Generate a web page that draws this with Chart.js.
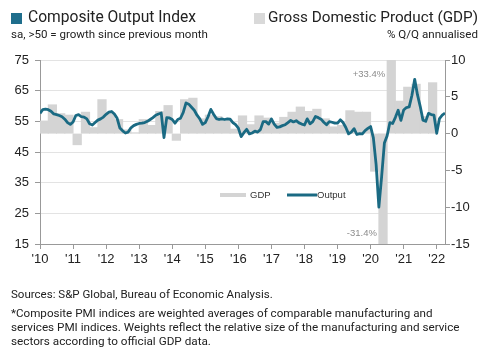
<!DOCTYPE html>
<html><head><meta charset="utf-8">
<script src="https://cdn.jsdelivr.net/npm/chart.js@4.4.1/dist/chart.umd.min.js"></script>
<style>
html,body{margin:0;padding:0;background:#fff;}
#wrap{position:relative;width:500px;height:356px;overflow:hidden;font-family:Roboto,"Noto Sans",sans-serif;color:#222;}
canvas{position:absolute;left:0;top:0;}
.t{position:absolute;white-space:nowrap;line-height:1;}
.sq{position:absolute;width:11px;height:11px;}
</style></head><body>
<div id="wrap">
<canvas id="c" width="500" height="356"></canvas>
<div class="sq" style="left:11px;top:13px;background:#1f6e8c"></div>
<div class="t fit" data-w="168" style="left:28px;top:10px;font-size:15px;">Composite Output Index</div>
<div class="t fit" data-w="197" style="left:11px;top:29px;font-size:10.5px;">sa, &gt;50 = growth since previous month</div>
<div class="sq" style="left:254px;top:13px;background:#d9d9d9"></div>
<div class="t fit" data-w="210" style="right:22px;top:10px;font-size:15px;">Gross Domestic Product (GDP)</div>
<div class="t fit" data-w="91" style="right:22px;top:29px;font-size:10.5px;">% Q/Q annualised</div>
<div class="t fit" data-w="262" style="left:11px;top:289px;font-size:10.5px;">Sources: S&amp;P Global, Bureau of Economic Analysis.</div>
<div class="t fit" data-w="422" style="left:11px;top:308px;font-size:10.5px;">*Composite PMI indices are weighted averages of comparable manufacturing and</div>
<div class="t fit" data-w="449" style="left:11px;top:322px;font-size:10.5px;">services PMI indices. Weights reflect the relative size of the manufacturing and service</div>
<div class="t fit" data-w="200" style="left:11px;top:336px;font-size:10.5px;">sectors according to official GDP data.</div>
</div>
<script>
// Monthly composite output index, Jan 2010 - Apr 2022
const pmi = [
  57.6, 58.8, 59.0, 58.8, 58.3, 57.4, 57.2, 56.9, 56.5, 55.7, 54.6, 54.0, // 2010
  54.8, 56.9, 57.2, 56.5, 56.4, 55.8, 54.2, 53.8, 54.6, 55.4, 55.8, 56.4, // 2011
  57.3, 58.0, 58.2, 57.4, 56.0, 52.8, 51.9, 51.2, 51.5, 52.9, 53.6, 54.0, // 2012
  54.3, 54.4, 54.6, 55.0, 55.6, 56.2, 57.0, 57.4, 57.7, 49.7, 56.2, 56.1, // 2013
  55.6, 54.4, 55.6, 56.0, 57.9, 61.0, 60.6, 59.6, 58.6, 57.0, 55.8, 54.0, // 2014
  54.6, 56.5, 58.9, 57.3, 55.9, 55.6, 55.8, 55.6, 55.8, 55.7, 54.6, 53.9, // 2015
  52.8, 50.0, 51.3, 52.4, 50.9, 51.2, 51.8, 51.5, 52.3, 54.9, 54.9, 54.1, // 2016
  55.8, 54.1, 53.0, 53.2, 53.6, 53.9, 54.6, 55.3, 54.8, 55.2, 54.5, 54.1, // 2017
  53.8, 55.8, 54.2, 54.9, 56.6, 56.2, 55.7, 54.7, 53.9, 54.9, 54.7, 54.4, // 2018
  54.4, 55.5, 54.6, 53.0, 50.9, 51.5, 52.6, 50.7, 51.0, 50.9, 52.0, 52.7, // 2019
  53.3, 49.6, 40.9, 27.0, 37.0, 47.9, 50.3, 54.6, 54.3, 56.3, 58.6, 55.3, // 2020
  58.7, 59.5, 59.7, 63.5, 68.7, 63.7, 59.9, 55.4, 55.0, 57.6, 57.2, 57.0, // 2021
  51.1, 55.9, 57.0, 57.7                                                  // 2022
];
// Quarterly GDP, % q/q annualised, 2010Q1 - 2021Q4
const gdp = [
  1.7, 3.9, 2.7, 2.5,   // 2010
  -1.5, 2.9, 0.8, 4.6,  // 2011
  2.7, 1.9, 0.5, 0.1,   // 2012
  1.9, 1.1, 3.0, 3.8,   // 2013
  -0.9, 4.6, 4.8, 2.0,  // 2014
  2.5, 2.3, 1.9, 0.6,   // 2015
  2.4, 1.2, 2.4, 2.1,   // 2016
  1.4, 2.2, 2.9, 3.6,   // 2017
  3.0, 3.3, 2.0, 0.9,   // 2018
  1.1, 3.1, 2.9, 2.9,   // 2019
  -5.1, -31.4, 33.4, 4.4, // 2020
  6.3, 6.7, 2.3, 6.9    // 2021
];
const startYear = 2010;
const years = [2010,2011,2012,2013,2014,2015,2016,2017,2018,2019,2020,2021,2022];
const yearLabels = ["'10","'11","'12","'13","'14","'15","'16","'17","'18","'19","'20","'21","'22"];
const leftTicks = [15,25,35,45,55,65,75];
const rightTicks = [-15,-10,-5,0,5,10];
const legendLabels = ['GDP','Output'];

const TEAL = '#1a6a83', GREY = '#d4d4d4';
const lineData = pmi.map((v,i)=>({x: startYear + i/12, y: v}));
const barData = gdp.map((v,j)=>({x: startYear + j/4 + 0.125, y: v}));

// fit header/footer text widths
document.querySelectorAll('.fit').forEach(el=>{
  const w = el.getBoundingClientRect().width;
  const target = +el.dataset.w;
  const fs = parseFloat(el.style.fontSize);
  el.style.fontSize = (fs*target/w).toFixed(2)+'px';
});

const overlay = {
  id:'overlay',
  afterDatasetsDraw(chart){
    const ctx = chart.ctx, a = chart.chartArea;
    const yR = chart.scales.yR;
    ctx.save();
    ctx.font = '9.5px "Liberation Sans", Arial, sans-serif';
    ctx.fillStyle = '#8c8c8c';
    ctx.textAlign = 'right';
    const meta = chart.getDatasetMeta(1);
    gdp.forEach((v,j)=>{
      if (v > yR.max || v < yR.min){
        const el = meta.data[j];
        const left = el.x - el.width/2 - 2;
        const txt = (v>0?'+':'') + v.toFixed(1) + '%';
        ctx.textBaseline = 'middle';
        ctx.fillText(txt, left, v>0 ? a.top+14 : a.bottom-11);
      }
    });
    const ly = a.top + 135;
    ctx.textAlign = 'left'; ctx.textBaseline = 'middle';
    ctx.font = '9.5px "Liberation Sans", Arial, sans-serif';
    ctx.fillStyle = GREY; ctx.fillRect(a.left+180, ly-2, 26, 4);
    ctx.fillStyle = '#333'; ctx.fillText(legendLabels[0], a.left+210, ly);
    ctx.strokeStyle = TEAL; ctx.lineWidth = 3;
    ctx.beginPath(); ctx.moveTo(a.left+247, ly); ctx.lineTo(a.left+277, ly); ctx.stroke();
    ctx.fillText(legendLabels[1], a.left+277, ly);
    ctx.restore();
  }
};

const tickFont = {family:'"Liberation Sans", Arial, sans-serif', size:13};
new Chart(document.getElementById('c'), {
  data: {
    datasets: [
      {type:'line', label:legendLabels[1], data: lineData, yAxisID:'yL', xAxisID:'x',
       borderColor: TEAL, borderWidth: 2.8, pointRadius: 0, tension: 0, order: 0,
       borderJoinStyle:'round'},
      {type:'bar', label:legendLabels[0], data: barData, yAxisID:'yR', xAxisID:'x',
       backgroundColor: GREY, borderWidth: 0, barPercentage: 1, categoryPercentage: 1,
       inflateAmount: 0.5, order: 1}
    ]
  },
  options: {
    responsive:false, animation:false, events:[],
    layout:{padding:{top:60,left:0,right:0,bottom:82}},
    plugins:{legend:{display:false}, tooltip:{enabled:false}},
    scales:{
      x:{type:'linear', position:'bottom', min:startYear, max:2022.25, offset:false,
        afterBuildTicks: s => { s.ticks = years.map(v=>({value:v})); },
        afterFit: s => { s.height = 30; },
        grid:{drawOnChartArea:false, offset:false, tickLength:5, tickColor:'#999'},
        border:{color:'#999'},
        ticks:{font:tickFont, color:'#222', padding:3, maxRotation:0, autoSkip:false,
          callback: v => yearLabels[years.indexOf(v)]}
      },
      yL:{type:'linear', position:'left', min:15, max:75,
        afterBuildTicks: s => { s.ticks = leftTicks.map(v=>({value:v})); },
        afterFit: s => { s.width = 40; },
        grid:{color:'#e3e3e3', tickLength:5, tickColor:'#999'},
        border:{color:'#999'},
        ticks:{font:tickFont, color:'#222', padding:6}
      },
      yR:{type:'linear', position:'right', min:-15, max:10,
        afterBuildTicks: s => { s.ticks = rightTicks.map(v=>({value:v})); },
        afterFit: s => { s.width = 55; },
        grid:{drawOnChartArea:false, tickLength:5, tickColor:'#999'},
        border:{color:'#999'},
        ticks:{font:tickFont, color:'#222', padding:1}
      }
    }
  },
  plugins:[overlay]
});
</script>
</body></html>
